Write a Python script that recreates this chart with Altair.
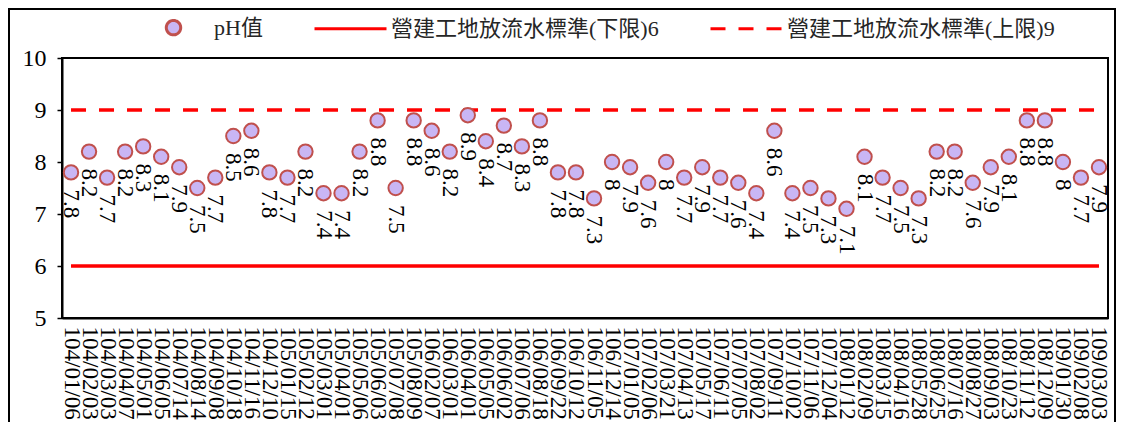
import altair as alt
import pandas as pd

DATES = [
    "104/01/06", "104/02/03", "104/03/03", "104/04/07", "104/05/01", "104/06/05",
    "104/07/14", "104/08/14", "104/09/08", "104/10/18", "104/11/16", "104/12/10",
    "105/01/15", "105/02/12", "105/03/01", "105/04/01", "105/05/06", "105/06/03",
    "105/07/08", "105/08/09", "106/02/07", "106/03/01", "106/04/01", "106/05/05",
    "106/06/02", "106/07/06", "106/08/18", "106/09/22", "106/10/12", "106/11/05",
    "106/12/14", "107/01/05", "107/02/06", "107/03/21", "107/04/13", "107/05/17",
    "107/06/11", "107/07/05", "107/08/02", "107/09/11", "107/10/02", "107/11/06",
    "107/12/04", "108/01/12", "108/02/09", "108/03/15", "108/04/16", "108/05/28",
    "108/06/25", "108/07/16", "108/08/27", "108/09/03", "108/10/23", "108/11/12",
    "108/12/09", "109/01/30", "109/02/08", "109/03/03",
]

PH = [
    7.8, 8.2, 7.7, 8.2, 8.3, 8.1, 7.9, 7.5, 7.7, 8.5, 8.6, 7.8,
    7.7, 8.2, 7.4, 7.4, 8.2, 8.8, 7.5, 8.8, 8.6, 8.2, 8.9, 8.4,
    8.7, 8.3, 8.8, 7.8, 7.8, 7.3, 8.0, 7.9, 7.6, 8.0, 7.7, 7.9,
    7.7, 7.6, 7.4, 8.6, 7.4, 7.5, 7.3, 7.1, 8.1, 7.7, 7.5, 7.3,
    8.2, 8.2, 7.6, 7.9, 8.1, 8.8, 8.8, 8.0, 7.7, 7.9,
]

SERIES = ["pH值", "營建工地放流水標準(下限)6", "營建工地放流水標準(上限)9"]
LIMITS = [6, 9]
Y_TICKS = [5, 6, 7, 8, 9, 10]

FONT = "'Liberation Serif', 'Times New Roman', 'Noto Sans CJK TC', serif"
CIRCLE = "M0.2,0 A0.2,0.2 0 1,1 -0.2,0 A0.2,0.2 0 1,1 0.2,0 Z"

ph_df = pd.DataFrame({"date": DATES, "value": PH, "series": SERIES[0]})
lim_df = pd.concat(
    [pd.DataFrame({"date": DATES, "value": lim, "series": s}) for lim, s in zip(LIMITS, SERIES[1:])],
    ignore_index=True,
)

x_enc = alt.X(
    "date:N",
    sort=DATES,
    scale=alt.Scale(type="point", padding=0.5),
    axis=alt.Axis(
        title=None, labelAngle=90, labelFont=FONT, labelFontSize=23, labelColor="black",
        labelPadding=8, ticks=False, labelOverlap=False, domainColor="black", domainWidth=2,
    ),
)
y_enc = alt.Y(
    "value:Q",
    scale=alt.Scale(domain=[5, 10], nice=False, zero=False),
    axis=alt.Axis(
        title=None, values=Y_TICKS, grid=False, labelFont=FONT, labelFontSize=24,
        labelColor="black", tickColor="black", tickSize=5, tickWidth=1.5, labelPadding=11,
        domainColor="black", domainWidth=2,
    ),
)

legend = alt.Legend(
    title=None, orient="none", legendX=74, legendY=-68, direction="horizontal", columns=3,
    columnPadding=45, labelFont=FONT, labelFontSize=22, labelColor="#262626", labelOffset=3,
    labelLimit=0, padding=0, symbolSize=5184, symbolStrokeWidth=3,
)

stroke_enc = alt.Stroke("series:N", scale=alt.Scale(domain=SERIES, range=["#c0504d", "#ff0000", "#ff0000"]), legend=legend)
dash_enc = alt.StrokeDash("series:N", scale=alt.Scale(domain=SERIES, range=[[1, 0], [1, 0], [15, 13]]), legend=legend)
fill_enc = alt.Fill("series:N", scale=alt.Scale(domain=SERIES, range=["#c9b6f4", "transparent", "transparent"]), legend=legend)
shape_enc = alt.Shape("series:N", scale=alt.Scale(domain=SERIES, range=[CIRCLE, "stroke", "stroke"]), legend=legend)

# outer frame of the whole figure (decoration)
frame = alt.Chart(pd.DataFrame({"f": [0]})).mark_rect(
    fillOpacity=0, stroke="black", strokeWidth=2
).encode(x=alt.value(-53), x2=alt.value(1053), y=alt.value(-49), y2=alt.value(420))

lines = alt.Chart(lim_df).mark_line(strokeWidth=3.5).encode(
    x=x_enc, y=y_enc, stroke=stroke_enc, strokeDash=dash_enc
)

points = alt.Chart(ph_df).mark_point(filled=True, size=5184, strokeWidth=2, opacity=1).encode(
    x=x_enc, y=y_enc, stroke=stroke_enc, fill=fill_enc, shape=shape_enc
)

labels = alt.Chart(ph_df).mark_text(
    angle=90, align="left", baseline="middle", dx=17, font=FONT, fontSize=23, color="black"
).encode(x=x_enc, y=y_enc, text=alt.Text("value:Q", format=""))

chart = (
    alt.layer(frame, lines, points, labels)
    .properties(
        width=1046, height=260,
        autosize=alt.AutoSizeParams(type="none"),
        padding={"left": 54, "top": 50, "right": 8, "bottom": 104},
        background="white",
    )
    .configure_view(stroke="black", strokeWidth=2)
)

chart.save("out.html", embed_options={"renderer": "svg", "actions": False})
